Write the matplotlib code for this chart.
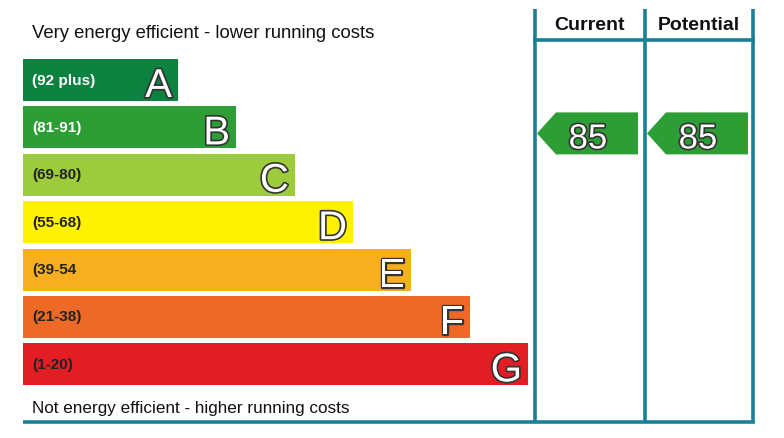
import matplotlib
matplotlib.use("Agg")
import matplotlib.pyplot as plt
import matplotlib.patheffects as pe
from matplotlib.patches import Polygon

# ── data ───────────────────────────────────────────────────────────────────────
bands = ["A", "B", "C", "D", "E", "F", "G"]
ranges = ["(92 plus)", "(81-91)", "(69-80)", "(55-68)", "(39-54", "(21-38)", "(1-20)"]
bar_ends = [178, 236, 295, 353, 411, 470, 528]
colors = ["#0c8140", "#2d9e35", "#9ccb3b", "#fff200", "#f7ae1f", "#ec6a25", "#e21d24"]
label_colors = ["white", "white", "#222222", "#222222", "#222222", "#222222", "#222222"]
current = 85
potential = 85
rating_band = "B"

TEAL = "#1a8096"
ARROW = "#2d9e35"
FONT = "Liberation Sans"

fig = plt.figure(figsize=(7.84, 4.38), dpi=100)
ax = fig.add_axes([0, 0, 1, 1])
ax.set_xlim(0, 784)
ax.set_ylim(438, 0)
ax.axis("off")

x0 = 23
rows = [80 + i * 47.4 for i in range(len(bands))]
bar_h = 42

outline = [pe.withStroke(linewidth=2.4, foreground="#333333")]

ax.barh(rows, [e - x0 for e in bar_ends], left=x0, height=bar_h, color=colors)
for y, end, band, rng, lc in zip(rows, bar_ends, bands, ranges, label_colors):
    ax.text(32, y + 4.5, rng, fontsize=11, fontweight="bold", color=lc,
            family=FONT, va="baseline", ha="left")
    ax.text(end - 6, y + bar_h / 2 - 4, band, fontsize=29, color="white",
            family=FONT, va="baseline", ha="right", path_effects=outline)

ax.text(32, 38, "Very energy efficient - lower running costs", fontsize=13.3,
        family=FONT, va="baseline", color="#111111")
ax.text(32, 413, "Not energy efficient - higher running costs", fontsize=12.3,
        family=FONT, va="baseline", color="#111111")

# frame of the rating columns
col_x = [535, 645, 753.5]
lw = 2.6
for cx in col_x:
    ax.plot([cx, cx], [9, 422], color=TEAL, lw=lw, solid_capstyle="butt")
ax.plot([col_x[0], col_x[-1]], [39.5, 39.5], color=TEAL, lw=lw)
ax.plot([x0, col_x[-1] + 1.3], [421.5, 421.5], color=TEAL, lw=lw, solid_capstyle="butt")

ax.text((col_x[0] + col_x[1]) / 2, 30, "Current", fontsize=14, fontweight="bold",
        family=FONT, ha="center", va="baseline", color="#111111")
ax.text((col_x[1] + col_x[2]) / 2, 30, "Potential", fontsize=14, fontweight="bold",
        family=FONT, ha="center", va="baseline", color="#111111")

# rating arrows
arrow_y = rows[bands.index(rating_band)] + 6
half = 21
for left, value in zip(col_x[:2], [current, potential]):
    tip = left + 2
    notch = tip + 19
    right = left + 103
    ax.add_patch(Polygon([(tip, arrow_y), (notch, arrow_y - half), (right, arrow_y - half),
                          (right, arrow_y + half), (notch, arrow_y + half)],
                         closed=True, color=ARROW, lw=0))
    ax.text((notch + right) / 2 - 9, arrow_y + half - 6, str(value), fontsize=25,
            color="white", family=FONT, ha="center", va="baseline", path_effects=outline)

fig.savefig("out.png", dpi=100)
